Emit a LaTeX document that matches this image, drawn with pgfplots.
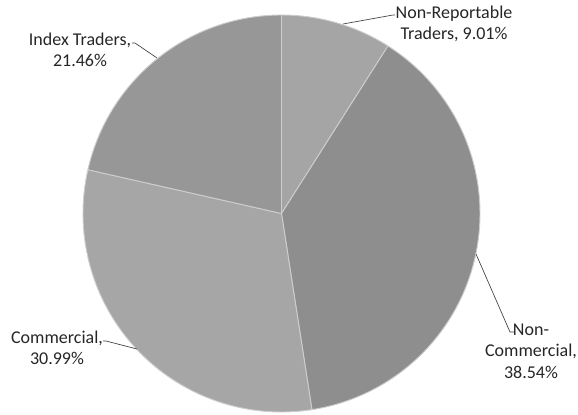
\documentclass[border=0pt]{standalone}
\usepackage{pgfplots}
\pgfplotsset{compat=1.18}
\usepackage{fontspec}
\setmainfont{Carlito}
\definecolor{sliceNR}{RGB}{165,165,165}
\definecolor{sliceNC}{RGB}{142,142,142}
\definecolor{sliceC}{RGB}{166,166,166}
\definecolor{sliceIT}{RGB}{151,151,151}
\definecolor{sep}{RGB}{205,205,205}

% shares in percent, clockwise from 12 o'clock
\def\vNR{9.01}
\def\vNC{38.54}
\def\vC{30.99}
\def\vIT{21.46}
% centre and radius in image pixels
\def\cx{281.5}
\def\cy{213.5}
\def\R{198.5}

\begin{document}
\begin{tikzpicture}
\pgfmathsetmacro{\aA}{90}
\pgfmathsetmacro{\aB}{\aA-3.6*\vNR}
\pgfmathsetmacro{\aC}{\aB-3.6*\vNC}
\pgfmathsetmacro{\aD}{\aC-3.6*\vC}
\pgfmathsetmacro{\aE}{\aD-3.6*\vIT}
\begin{axis}[
  scale only axis,
  width=433.5pt, height=310.5pt,
  xmin=0, xmax=578, ymin=0, ymax=414,
  y dir=reverse,
  hide axis, clip=false,
  every axis plot/.append style={line width=0.7pt, line join=round},
]
\addplot[fill=sliceNR, draw=sep, domain=\aB:\aA, samples=40, variable=\t]
  ({\cx+\R*cos(\t)},{\cy-\R*sin(\t)}) -- (axis cs:\cx,\cy) -- cycle;
\addplot[fill=sliceNC, draw=sep, domain=\aC:\aB, samples=120, variable=\t]
  ({\cx+\R*cos(\t)},{\cy-\R*sin(\t)}) -- (axis cs:\cx,\cy) -- cycle;
\addplot[fill=sliceC, draw=sep, domain=\aD:\aC, samples=100, variable=\t]
  ({\cx+\R*cos(\t)},{\cy-\R*sin(\t)}) -- (axis cs:\cx,\cy) -- cycle;
\addplot[fill=sliceIT, draw=sep, domain=\aE:\aD, samples=80, variable=\t]
  ({\cx+\R*cos(\t)},{\cy-\R*sin(\t)}) -- (axis cs:\cx,\cy) -- cycle;

% leader lines
\addplot[black!75, line width=0.5pt] coordinates {(343,24) (393,15) (395,15)};
\addplot[black!75, line width=0.5pt] coordinates {(476,254) (510,332) (515,332)};
\addplot[black!75, line width=0.5pt] coordinates {(137,349) (106,341) (103,341)};
\addplot[black!75, line width=0.5pt] coordinates {(157,58) (135,43) (132,43)};

\begin{scope}[every node/.style={font=\fontsize{13.5}{16.2}\selectfont, align=center, text=black!85, inner sep=0pt}]
\node at (axis cs:454,24) {Non-Reportable\\Traders, 9.01\%};
\node at (axis cs:531,351) {Non-\\Commercial,\\38.54\%};
\node at (axis cs:57,348) {Commercial,\\30.99\%};
\node at (axis cs:80,50) {Index Traders,\\21.46\%};
\end{scope}
\end{axis}
\pgfresetboundingbox
\path (current axis.south west) rectangle (current axis.north east);
\end{tikzpicture}
\end{document}
